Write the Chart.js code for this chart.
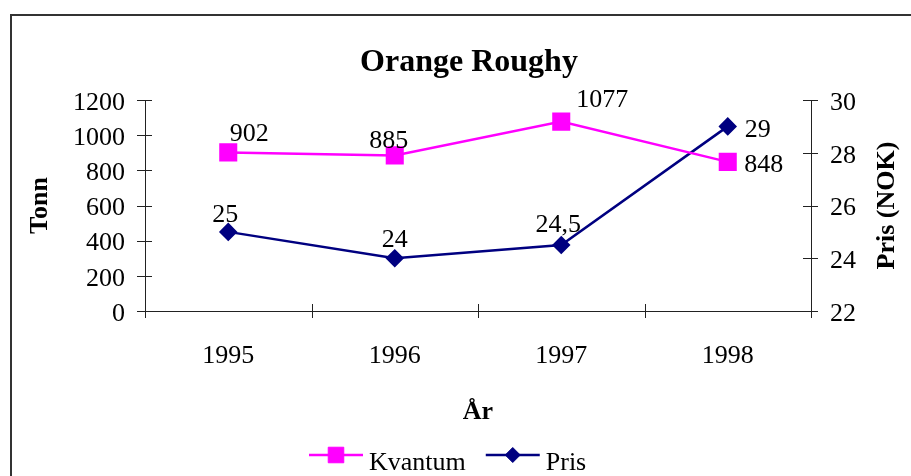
<!DOCTYPE html>
<html>
<head>
<meta charset="utf-8">
<script src="https://cdn.jsdelivr.net/npm/chart.js@4.4.1/dist/chart.umd.min.js"></script>
<style>
  html, body { margin: 0; padding: 0; background: #fff; }
  #wrap { width: 911px; height: 476px; }
</style>
</head>
<body>
<div id="wrap"><canvas id="chart" width="911" height="476"></canvas></div>
<script>
// data
const years = ['1995', '1996', '1997', '1998'];
const kvantum = [902, 885, 1077, 848];
const pris = [25, 24, 24.5, 29];
const tonnTicks = [0, 200, 400, 600, 800, 1000, 1200];
const prisTicks = [22, 24, 26, 28, 30];

const FONT = "'Liberation Serif', 'Times New Roman', serif";
const MAGENTA = '#ff00ff';
const NAVY = '#000080';
const AXIS = '#222';

// where each value label sits relative to its point (dx to text centre, dy to baseline)
const labelOffsets = [
  [[21, -11], [-6, -7], [41, -15], [36, 10]],
  [[-3, -10], [0, -11], [-3, -13], [30, 11]]
];

function fmt(v) {
  return String(v).replace('.', ',');
}

function line(ctx, x1, y1, x2, y2) {
  ctx.beginPath();
  ctx.moveTo(x1, y1);
  ctx.lineTo(x2, y2);
  ctx.stroke();
}

const decor = {
  id: 'decor',
  beforeDraw(chart) {
    const ctx = chart.ctx;
    ctx.save();
    ctx.fillStyle = '#fff';
    ctx.fillRect(0, 0, chart.width, chart.height);
    // ramme rundt diagrammet
    ctx.strokeStyle = '#333';
    ctx.lineWidth = 2;
    ctx.strokeRect(11, 15, chart.width + 20, chart.height + 20);
    ctx.restore();
  },
  afterDatasetsDraw(chart) {
    const ctx = chart.ctx;
    ctx.save();
    ctx.font = '26px ' + FONT;
    ctx.fillStyle = '#000';
    ctx.textAlign = 'center';
    ctx.textBaseline = 'alphabetic';
    chart.data.datasets.forEach((ds, d) => {
      chart.getDatasetMeta(d).data.forEach((pt, i) => {
        const off = labelOffsets[d][i];
        ctx.fillText(fmt(ds.data[i]), pt.x + off[0], pt.y + off[1]);
      });
    });
    ctx.restore();
  },
  afterDraw(chart) {
    const ctx = chart.ctx;
    const xs = chart.scales.x, yl = chart.scales.y, yr = chart.scales.y1;
    const area = chart.chartArea;
    ctx.save();
    ctx.strokeStyle = AXIS;
    ctx.lineWidth = 1;

    // tick marks crossing the axes
    yl.ticks.forEach((t, i) => {
      const y = Math.round(yl.getPixelForTick(i)) + 0.5;
      line(ctx, yl.right - 8, y, yl.right + 7, y);
    });
    yr.ticks.forEach((t, i) => {
      const y = Math.round(yr.getPixelForTick(i)) + 0.5;
      line(ctx, yr.left - 8, y, yr.left + 7, y);
    });
    for (let i = 0; i <= years.length; i++) {
      const x = Math.round(xs.getPixelForValue(i - 0.5)) + 0.5;
      line(ctx, x, xs.top - 7, x, xs.top + 7);
    }

    // right axis title, reading upwards like the left one
    ctx.fillStyle = '#000';
    ctx.font = 'bold 26px ' + FONT;
    ctx.textAlign = 'center';
    ctx.textBaseline = 'middle';
    ctx.save();
    ctx.translate(yr.right - 24, (area.top + area.bottom) / 2);
    ctx.rotate(-Math.PI / 2);
    ctx.fillText('Pris (NOK)', 0, 0);
    ctx.restore();

    // legend: line + marker + name
    ctx.font = '26px ' + FONT;
    ctx.textAlign = 'left';
    ctx.textBaseline = 'alphabetic';
    let x = 309;
    const ly = 455;
    chart.data.datasets.forEach((ds) => {
      ctx.strokeStyle = ds.borderColor;
      ctx.lineWidth = ds.borderWidth;
      line(ctx, x, ly, x + 54, ly);
      ctx.fillStyle = ds.pointBackgroundColor;
      ctx.strokeStyle = ds.pointBorderColor;
      ctx.lineWidth = 1;
      Chart.helpers.drawPoint(ctx, { pointStyle: ds.pointStyle, radius: ds.pointRadius, rotation: 0, borderWidth: 1 }, x + 27, ly);
      ctx.fillStyle = '#000';
      ctx.fillText(ds.label, x + 60, ly + 15);
      x += 60 + ctx.measureText(ds.label).width + 20;
    });
    ctx.restore();
  }
};

const tickFont = { family: FONT, size: 26 };
const titleFont = { family: FONT, size: 26, weight: 'bold', lineHeight: 1 };
const plain = (v) => String(v);

new Chart(document.getElementById('chart'), {
  type: 'line',
  data: {
    labels: years,
    datasets: [
      {
        label: 'Kvantum',
        data: kvantum,
        yAxisID: 'y',
        borderColor: MAGENTA,
        borderWidth: 2.5,
        pointStyle: 'rect',
        pointRadius: 11,
        pointBackgroundColor: MAGENTA,
        pointBorderColor: MAGENTA,
        tension: 0
      },
      {
        label: 'Pris',
        data: pris,
        yAxisID: 'y1',
        borderColor: NAVY,
        borderWidth: 2.5,
        pointStyle: 'rectRot',
        pointRadius: 7.5,
        pointBackgroundColor: NAVY,
        pointBorderColor: NAVY,
        tension: 0
      }
    ]
  },
  options: {
    responsive: false,
    animation: false,
    events: [],
    layout: { padding: { left: 27, right: 0, top: 0, bottom: 50 } },
    plugins: {
      legend: { display: false },
      tooltip: { enabled: false },
      title: {
        display: true,
        text: 'Orange Roughy',
        color: '#000',
        font: { family: FONT, size: 32, weight: 'bold' },
        padding: { top: 44, bottom: 17.6 }
      }
    },
    scales: {
      x: {
        offset: true,
        grid: { display: false, drawTicks: false },
        border: { display: true, color: AXIS },
        ticks: { color: '#000', font: tickFont, padding: 30, maxRotation: 0, autoSkip: false },
        title: { display: true, text: 'År', color: '#000', font: titleFont, padding: { top: 0, bottom: 1 } },
        afterFit(s) { s.height = 115; }
      },
      y: {
        position: 'left',
        min: tonnTicks[0],
        max: tonnTicks[tonnTicks.length - 1],
        grid: { display: false, drawTicks: false },
        border: { display: true, color: AXIS },
        ticks: { stepSize: tonnTicks[1] - tonnTicks[0], callback: plain, color: '#000', font: tickFont, padding: 20, labelOffset: 3, autoSkip: false },
        title: { display: true, text: 'Tonn', color: '#000', font: titleFont, padding: 0 },
        afterFit(s) { s.width = 118; }
      },
      y1: {
        position: 'right',
        min: prisTicks[0],
        max: prisTicks[prisTicks.length - 1],
        grid: { display: false, drawTicks: false },
        border: { display: true, color: AXIS },
        ticks: { stepSize: prisTicks[1] - prisTicks[0], callback: plain, color: '#000', font: tickFont, padding: 19, labelOffset: 3, autoSkip: false },
        afterFit(s) { s.width = 100; }
      }
    }
  },
  plugins: [decor]
});
</script>
</body>
</html>
